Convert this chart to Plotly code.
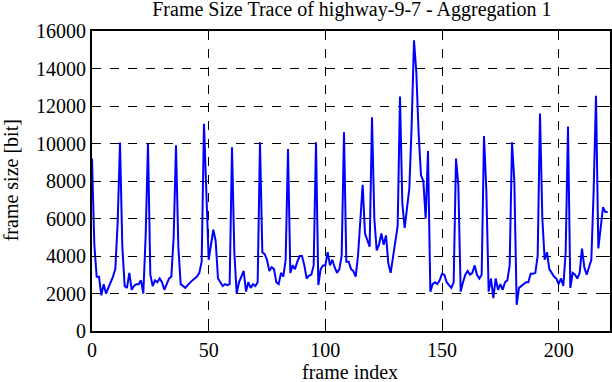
import plotly.graph_objects as go

frame_size = [
    9200, 4600, 2900, 2900, 1900, 2500, 2000, 2300, 2500, 2900,
    3300, 5800, 10050, 4500, 2400, 2300, 3100, 2200, 2400, 2500,
    2500, 2700, 2000, 5100, 10000, 3000, 2400, 2700, 2600, 2800,
    2600, 2200, 2500, 2800, 2900, 5000, 9900, 4500, 2500, 2400,
    2300, 2450, 2600, 2700, 2800, 2900, 3100, 3700, 11050, 7000,
    3800, 4600, 5400, 4800, 2800, 2600, 2400, 2500, 2450, 2500,
    9800, 4200, 2000, 2600, 2900, 3200, 2100, 2600, 2300, 2500,
    2400, 2600, 10070, 4200, 4100, 3800, 3200, 3400, 3300, 2600,
    2500, 3100, 2900, 3800, 9700, 3100, 3500, 3300, 3700, 4000,
    4000, 3500, 2800, 2950, 3000, 3500, 10070, 2450, 3300, 3500,
    3500, 4200, 3500, 3800, 3400, 3100, 3300, 4000, 10600, 3700,
    3700, 3300, 3200, 2900, 4000, 6000, 7800, 5200, 4900, 4500,
    11400, 6000, 4300, 4600, 5200, 4600, 5100, 3600, 3100, 3900,
    4600, 5600, 12500, 6800, 5500, 6500, 7600, 11000, 15500, 13800,
    10500, 8300, 8000, 6000, 9600, 2100, 2500, 2600, 2500, 2700,
    3050, 3000, 2600, 2450, 2300, 2600, 9200, 7800, 2100, 2600,
    3000, 3200, 3000, 3100, 3500, 3000, 2800, 3000, 10400, 7500,
    2100, 2800, 1750, 2800, 2200, 2500, 2200, 2600, 2700, 3500,
    10070, 8000, 1400, 2300, 2400, 2500, 2600, 2600, 3050, 3050,
    3100, 4000, 11600, 6000, 3800, 4200, 3300, 3100, 2900, 2800,
    2500, 2800, 2400, 4200, 10900, 2300, 3100, 3000, 2800, 3100,
    4400, 3400, 3000, 3400, 3800, 7500, 12550, 4400, 5600, 6600,
    6350, 6350,
]
frame_index = list(range(len(frame_size)))

x_ticks = [0, 50, 100, 150, 200]
x_tick_labels = ["0", "50", "100", "150", "200"]
y_ticks = [0, 2000, 4000, 6000, 8000, 10000, 12000, 14000, 16000]
y_tick_labels = ["0", "2000", "4000", "6000", "8000", "10000", "12000", "14000", "16000"]

title_text = "Frame Size Trace of highway-9-7 - Aggregation 1"
x_label = "frame index"
y_label = "frame size [bit]"

FONT = "Liberation Serif, Times New Roman, serif"
FS = 20

fig = go.Figure()
fig.add_trace(go.Scatter(
    x=frame_index, y=frame_size, mode="lines",
    line=dict(color="#0000ff", width=2),
    showlegend=False,
))

axis_common = dict(
    showline=True, linecolor="black", linewidth=2, mirror="ticks",
    ticks="inside", ticklen=8, tickcolor="black", tickwidth=1,
    showgrid=True, gridcolor="black", gridwidth=1, griddash="dash",
    zeroline=False, automargin=False,
    tickfont=dict(family=FONT, size=FS, color="black"),
)

fig.update_layout(
    width=612, height=382,
    margin=dict(l=92, r=2, t=31, b=51),
    paper_bgcolor="white", plot_bgcolor="white",
    title=dict(text=title_text, x=0.575, xanchor="center", y=0.995, yanchor="top",
               font=dict(family=FONT, size=FS, color="black")),
    xaxis=dict(range=[0, 222], tickvals=x_ticks, ticktext=x_tick_labels, **axis_common),
    yaxis=dict(range=[0, 16000], tickvals=y_ticks, ticktext=y_tick_labels, **axis_common),
    annotations=[
        dict(text=x_label, xref="paper", yref="paper", x=0.498, y=-0.137,
             xanchor="center", yanchor="middle", showarrow=False,
             font=dict(family=FONT, size=FS, color="black")),
        dict(text=y_label, xref="paper", yref="paper", x=-0.156, y=0.503,
             xanchor="center", yanchor="middle", showarrow=False, textangle=-90,
             font=dict(family=FONT, size=FS, color="black")),
    ],
)

fig.write_html("out.html", config={"displayModeBar": False},
               post_script="document.body.style.margin='0';document.body.style.overflow='hidden';")
